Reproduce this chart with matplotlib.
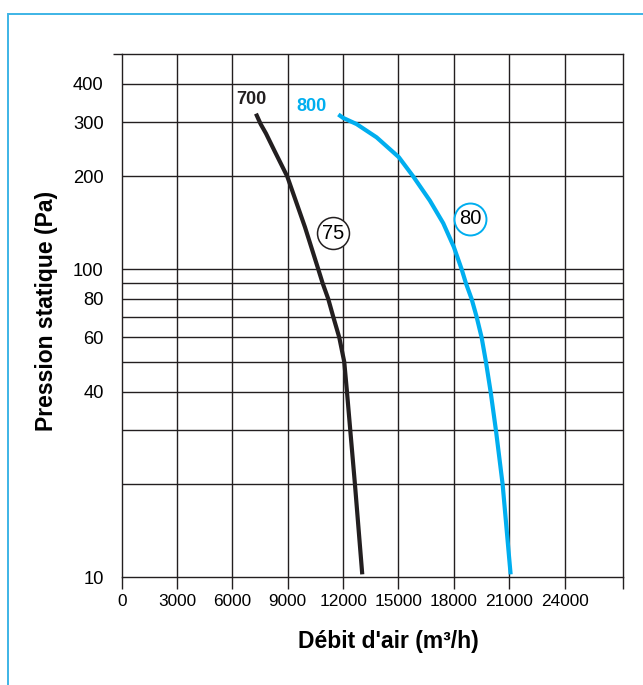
import matplotlib
matplotlib.use("Agg")
from matplotlib import pyplot as plt
from matplotlib.patches import Rectangle
from matplotlib.ticker import NullFormatter

# fan curves (debit m3/h, static pressure Pa)
flow_700 = [7276, 7531, 7818, 8270, 8973, 9931, 10652, 10890, 11194, 11465, 11790, 12060, 12207, 12386, 12640, 13036]
press_700 = [320, 296, 276, 243, 200, 137, 100, 90, 80, 70, 60, 50, 40, 30, 20, 10.2]
flow_800 = [11740, 12000, 12730, 13815, 15020, 15800, 16700, 17425, 18000, 18421, 18654, 18963, 19234,
            19505, 19738, 19992, 20279, 20643, 21076]
press_800 = [318, 310, 296, 268, 231, 200, 167, 141, 118, 100, 90, 80, 70, 60, 50, 40, 30, 20, 10.2]

x_ticks = [0, 3000, 6000, 9000, 12000, 15000, 18000, 21000, 24000]
y_labels = [10, 40, 60, 80, 100, 200, 300, 400]
y_grid = [20, 30, 40, 50, 60, 70, 80, 90, 100, 200, 300, 400]

blue = "#00aeef"
dark = "#231f20"
plain = ["Liberation Sans", "DejaVu Sans"]

fig = plt.figure(figsize=(6.43, 6.85), dpi=100)
ax = fig.add_axes([121.7 / 643, 1 - 577 / 685, 501 / 643, 523 / 685])

# outer light blue frame
fig.patches.append(Rectangle((8 / 643, -0.1), 1.2, 1 - 14 / 685 + 0.1, transform=fig.transFigure,
                             fill=False, ec="#3db4e6", lw=1.4))

ax.set_yscale("log")
ax.set_xlim(0, 27150)
ax.set_ylim(10, 500)

for y in y_grid:
    ax.axhline(y, color=dark, lw=1.0, zorder=1)
for x in x_ticks[1:]:
    ax.axvline(x, color=dark, lw=1.0, zorder=1)
for s in ax.spines.values():
    s.set_color(dark)
    s.set_linewidth(1.0)

ax.set_xticks(x_ticks + [27150], labels=[str(v) for v in x_ticks] + [""])
ax.tick_params(axis="x", length=8.6, width=1.0, color=dark, pad=4, labelsize=12.4)
ax.set_yticks(y_labels, labels=[str(v) for v in y_labels])
ax.set_yticks([10, 100, 500], minor=True)
ax.yaxis.set_minor_formatter(NullFormatter())
ax.tick_params(axis="y", which="major", length=0, pad=13, labelsize=13.2)
ax.tick_params(axis="y", which="minor", length=6.5, width=1.0, color=dark)
for lab in ax.get_xticklabels() + ax.get_yticklabels():
    lab.set_family(plain)

ax.plot(flow_700, press_700, color=dark, lw=3.0, solid_capstyle="butt", zorder=3)
ax.plot(flow_800, press_800, color=blue, lw=3.0, solid_capstyle="butt", zorder=3)

ax.text(7006, 355, "700", color=dark, fontsize=13, fontweight="bold", family=plain,
        ha="center", va="center")
ax.text(10290, 337, "800", color=blue, fontsize=13, fontweight="bold", family=plain,
        ha="center", va="center")

ax.plot([11465], [130.6], "o", ms=23, mfc="white", mec=dark, mew=1.1, zorder=4)
ax.text(11465, 130.6, "75", fontsize=14.5, family=plain, ha="center", va="center", zorder=5)
ax.plot([18870], [146], "o", ms=23, mfc="white", mec=blue, mew=1.4, zorder=4)
ax.text(18870, 146, "80", fontsize=14.5, family=plain, ha="center", va="center", zorder=5)

ax.text(0.533, -0.1224, "Débit d'air (m³/h)", transform=ax.transAxes, fontsize=16.5,
        fontweight="bold", family=plain, ha="center", va="center")
ax.text(-0.1497, 0.5096, "Pression statique (Pa)", transform=ax.transAxes, fontsize=16.5,
        fontweight="bold", family=plain, ha="center", va="center", rotation=90)

plt.savefig("out.png", dpi=100)
plt.close()
